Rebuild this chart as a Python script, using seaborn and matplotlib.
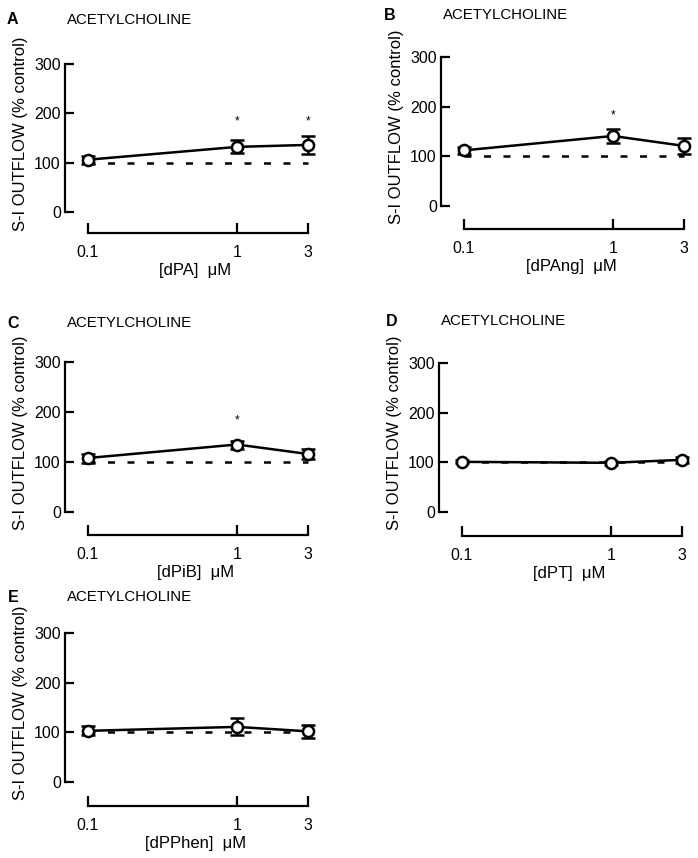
import matplotlib
matplotlib.use("Agg")
import matplotlib.pyplot as plt
import seaborn as sns
from matplotlib.ticker import NullLocator

sns.set_style("ticks")
plt.rcParams["font.family"] = ["Liberation Sans", "DejaVu Sans"]
plt.rcParams["text.color"] = "black"
plt.rcParams["axes.labelcolor"] = "black"
plt.rcParams["xtick.color"] = "black"
plt.rcParams["ytick.color"] = "black"
plt.rcParams["axes.edgecolor"] = "black"

# concentrations (uM)
conc = [0.1, 1, 3]
conc_labels = ["0.1", "1", "3"]

# panel A - dPA
dpa_mean = [106, 132, 136]
dpa_err = [8, 13, 19]
dpa_star = [False, True, True]

# panel B - dPAng
dpang_mean = [112, 141, 121]
dpang_err = [7, 14, 16]
dpang_star = [False, True, False]

# panel C - dPiB
dpib_mean = [108, 135, 116]
dpib_err = [9, 8, 10]
dpib_star = [False, True, False]

# panel D - dPT
dpt_mean = [101, 99, 105]
dpt_err = [3, 4, 6]
dpt_star = [False, False, False]

# panel E - dPPhen
dpphen_mean = [103, 111, 102]
dpphen_err = [9, 17, 13]
dpphen_star = [False, False, False]

W, H = 698, 858
fig = plt.figure(figsize=(W / 100, H / 100), dpi=100)

# letter, x label, data, spine x px, y300 px, y0 px, x-axis offset px, letter x px, title y px
panels = [
    ("A", "[dPA]  \u03bcM", dpa_mean, dpa_err, dpa_star, 65, 64, 212, 21, 7, 20),
    ("B", "[dPAng]  \u03bcM", dpang_mean, dpang_err, dpang_star, 441, 57, 206, 23, 384, 15),
    ("C", "[dPiB]  \u03bcM", dpib_mean, dpib_err, dpib_star, 65, 362, 512, 23, 7, 323),
    ("D", "[dPT]  \u03bcM", dpt_mean, dpt_err, dpt_star, 439, 363, 512, 24, 386, 321),
    ("E", "[dPPhen]  \u03bcM", dpphen_mean, dpphen_err, dpphen_star, 65, 633, 782, 24, 8, 597),
]

AX_W = 251
left_pad = 23   # px from spine to 0.1
decade = 149    # px per log decade
right_pad = 8

for letter, xlab, mean, err, star, sx, y300, y0, off, lx, ty in panels:
    h = y0 - y300
    ax = fig.add_axes([sx / W, 1 - y0 / H, AX_W / W, h / H])
    ax.set_xscale("log")
    ax.set_xlim(10 ** (-1 - left_pad / decade), 10 ** (0.4771 + right_pad / decade))
    ax.set_ylim(0, 300)

    # control level
    ax.plot([0.1, 3], [100, 100], color="black", lw=1.8, ls=(0, (2.8, 5.0)), zorder=1)

    ax.errorbar(conc, mean, yerr=err, fmt="none", ecolor="black", elinewidth=1.8,
                capsize=4.8, capthick=1.8, zorder=2, clip_on=False)
    sns.lineplot(x=conc, y=mean, ax=ax, color="black", lw=1.8, marker="o",
                 markersize=8, markerfacecolor="white", markeredgecolor="black",
                 markeredgewidth=1.8, zorder=3, clip_on=False)

    for xv, s in zip(conc, star):
        if s:
            ax.text(xv, 183, "*", ha="center", va="center", fontsize=8.5)

    sns.despine(ax=ax)
    ax.spines["left"].set_bounds(0, 300)
    ax.spines["bottom"].set_bounds(0.1, 3)
    ax.spines["bottom"].set_position(("outward", off * 0.72))
    for sp in ("left", "bottom"):
        ax.spines[sp].set_linewidth(1.6)

    ax.set_yticks([0, 100, 200, 300])
    ax.set_yticklabels(["0", "100", "200", "300"])
    ax.set_xticks(conc)
    ax.set_xticklabels(conc_labels)
    ax.xaxis.set_minor_locator(NullLocator())
    ax.tick_params(axis="y", direction="in", length=6.5, width=1.6, pad=3.0, labelsize=11.5)
    ax.tick_params(axis="x", direction="in", length=7, width=1.6, pad=8.5, labelsize=11.5)

    ax.set_ylabel("S-I OUTFLOW (% control)", fontsize=12)
    ax.yaxis.set_label_coords(-37 / AX_W, 0.53)
    ax.set_xlabel(xlab, fontsize=12)
    ax.xaxis.set_label_coords(0.52, -(off + 30) / h)

    fig.text(lx / W, 1 - ty / H, letter, fontsize=11.5, fontweight="bold", va="center", ha="left")
    fig.text((sx + 2) / W, 1 - ty / H, "ACETYLCHOLINE", fontsize=10.8, va="center", ha="left")

fig.savefig("out.png", dpi=100)
